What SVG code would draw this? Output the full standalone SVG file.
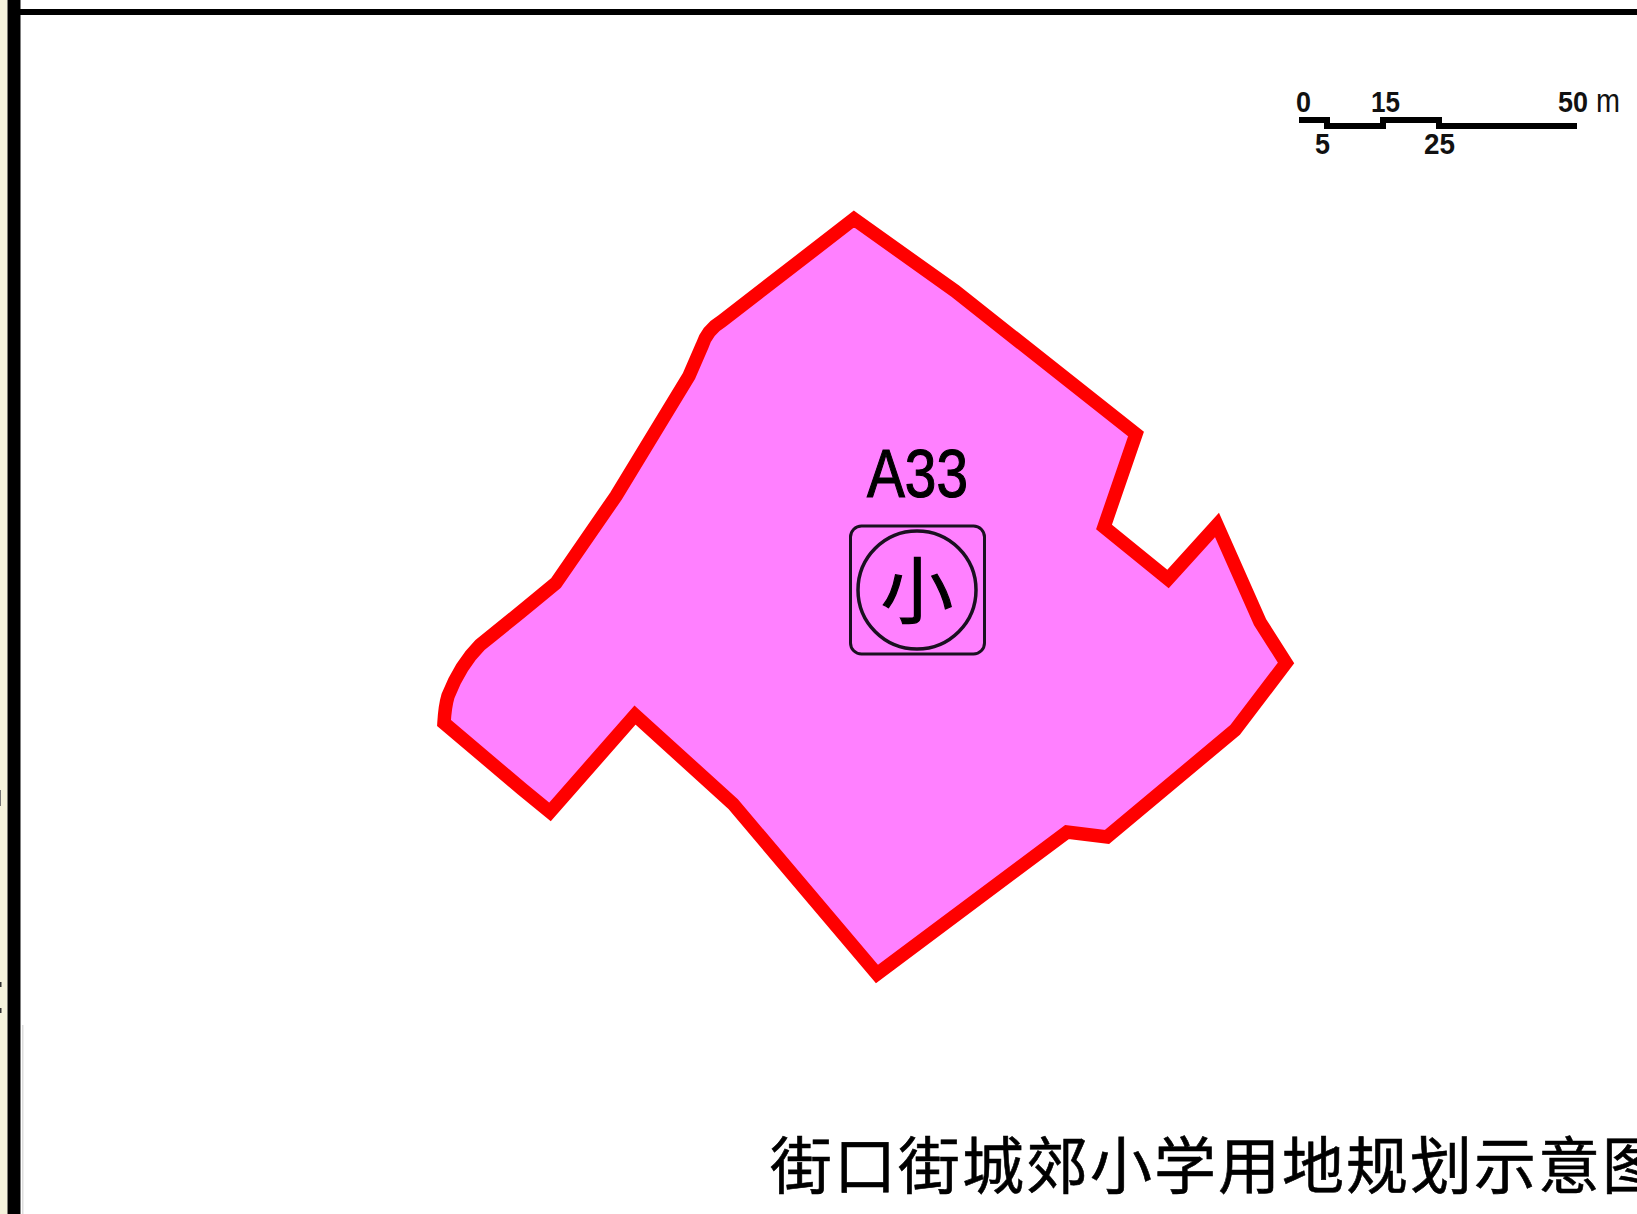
<svg xmlns="http://www.w3.org/2000/svg" width="1637" height="1214" viewBox="0 0 1637 1214">
<style>
.sc{font-family:"Liberation Sans",Arial,sans-serif;font-size:30px;font-weight:700;fill:#111;lengthAdjust:spacingAndGlyphs}
.cjk{font-family:"Noto Sans CJK SC","Liberation Sans",sans-serif;fill:#000;stroke:#000}
</style>
<rect width="1637" height="1214" fill="#fff"/>
<rect x="0" y="0" width="7.5" height="1214" fill="#f5f3dc"/>
<rect x="7.5" y="0" width="13" height="1214" fill="#000"/>
<rect x="20" y="9" width="1617" height="6" fill="#000"/>
<rect x="22" y="1025" width="1.5" height="189" fill="#ddd"/>
<rect x="0" y="790" width="1" height="16" fill="#777"/>
<rect x="0" y="982" width="1.5" height="5" fill="#333"/>
<rect x="0" y="1008" width="1.5" height="5" fill="#333"/>
<g id="parcel">
<path d="M854 219 L955 291 L1136 434 L1104 527 L1168 579 L1217 525 L1260 622 L1286 663 L1235 730 L1107 837 L1067 832 L877 974 L733 804 L635 715 L550 812 L522 789 L444 723 Q445 706 448 696 Q460 665 480 645 Q515 617 556 583 L616 496 L689 376 L702 346 Q707 330 722 321 Z" fill="#ff80ff" stroke="#ff0000" stroke-width="13.5" stroke-linejoin="miter"/>
</g>
<g id="label">
<text x="867" y="497" font-family="Liberation Sans,Arial,sans-serif" font-size="68" fill="#000" stroke="#000" stroke-width="1.2" textLength="101" lengthAdjust="spacingAndGlyphs">A33</text>
<rect x="850.5" y="526" width="134" height="128" rx="11" fill="none" stroke="#1a1020" stroke-width="3"/>
<circle cx="917" cy="590" r="59" fill="none" stroke="#1a1020" stroke-width="3.5"/>
<text x="917" y="617" class="cjk" font-size="72" text-anchor="middle" stroke-width="1.2">小</text>
</g>
<g id="scale">
<path d="M1299 120H1327V126H1383V120H1439V126H1577" fill="none" stroke="#000" stroke-width="6"/>
<text x="1296" y="112" class="sc" textLength="15" lengthAdjust="spacingAndGlyphs">0</text>
<text x="1371" y="112" class="sc" textLength="29" lengthAdjust="spacingAndGlyphs">15</text>
<text x="1558" y="112" class="sc" textLength="30" lengthAdjust="spacingAndGlyphs">50</text>
<text x="1315" y="154" class="sc" textLength="15" lengthAdjust="spacingAndGlyphs">5</text>
<text x="1424" y="154" class="sc" textLength="31" lengthAdjust="spacingAndGlyphs">25</text>
<text x="1596" y="112" font-family="Liberation Sans,Arial,sans-serif" font-size="34" fill="#111" textLength="24" lengthAdjust="spacingAndGlyphs">m</text>
</g>
<text id="title" x="770" y="1189" class="cjk" font-size="62" letter-spacing="2" stroke-width="0.6">街口街城郊小学用地规划示意图</text>
</svg>
